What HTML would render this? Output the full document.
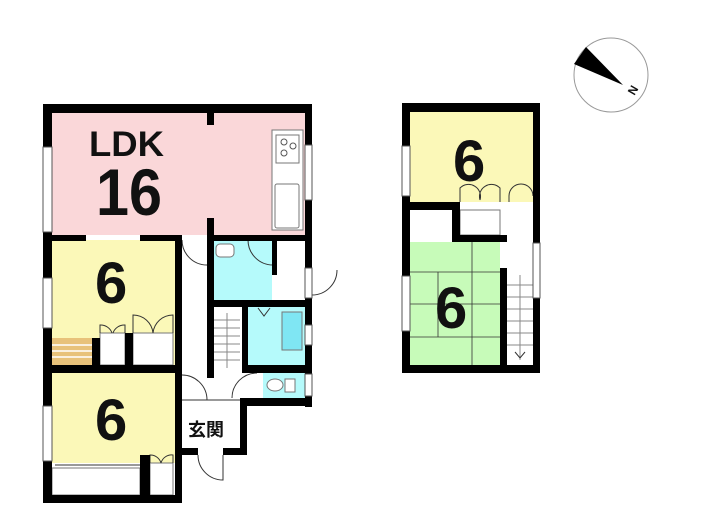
<!DOCTYPE html>
<html><head><meta charset="utf-8"><style>
html,body{margin:0;padding:0;background:#fff;}
svg{display:block}
text{font-family:"Liberation Sans","Noto Sans CJK JP",sans-serif;font-weight:bold;fill:#111}
</style></head><body>
<svg width="705" height="525" viewBox="0 0 705 525" xmlns="http://www.w3.org/2000/svg">
<!-- compass -->
<circle cx="611" cy="75" r="37" fill="#fff" stroke="#999" stroke-width="1"/>
<polygon points="586,47 574,64 623,85" fill="#000"/>
<text x="628" y="95" font-size="12" font-weight="normal" transform="rotate(-60 632 90)">N</text>

<!-- ===== FIRST FLOOR ===== -->
<rect x="52" y="113" width="253" height="122" fill="#fad7d9"/>
<rect x="52" y="240" width="123" height="125" fill="#fbf8b8"/>
<rect x="52" y="373" width="123" height="90" fill="#fbf8b8"/>
<rect x="214" y="240" width="58" height="60" fill="#b5fafb"/>
<rect x="248" y="307" width="57" height="58" fill="#b5fafb"/>
<rect x="263" y="373" width="42" height="25" fill="#b5fafb"/>
<rect x="52" y="338" width="40" height="27" fill="#e8c27a"/>
<g stroke="#fff" stroke-width="1.5"><line x1="52" y1="345" x2="92" y2="345"/><line x1="52" y1="351" x2="92" y2="351"/><line x1="52" y1="357" x2="92" y2="357"/></g>
<rect x="272" y="130" width="31" height="100" fill="#fff" stroke="#777"/>
<rect x="276" y="135" width="23" height="28" fill="#fff" stroke="#777"/>
<circle cx="284" cy="142" r="3" fill="none" stroke="#555"/><circle cx="293" cy="146" r="3" fill="none" stroke="#555"/><circle cx="284" cy="153" r="3" fill="none" stroke="#555"/>
<rect x="275" y="184" width="24" height="44" rx="2" fill="#fff" stroke="#777"/>
<rect x="282" y="312" width="20" height="38" fill="#7fe6f3" stroke="#777"/>
<rect x="216" y="244" width="18" height="13" rx="4" fill="#fff" stroke="#777"/>
<ellipse cx="275" cy="385" rx="8" ry="6" fill="#fff" stroke="#777"/>
<rect x="285" y="379" width="10" height="13" fill="#fff" stroke="#777"/>
<rect x="214" y="307" width="28" height="63" fill="#fff"/>
<g stroke="#888" stroke-width="1"><line x1="214" y1="320" x2="240" y2="320"/><line x1="214" y1="328" x2="240" y2="328"/><line x1="214" y1="336" x2="240" y2="336"/><line x1="214" y1="344" x2="240" y2="344"/><line x1="214" y1="352" x2="240" y2="352"/><line x1="214" y1="360" x2="240" y2="360"/><line x1="227" y1="313" x2="227" y2="368"/></g>
<rect x="100" y="333" width="25" height="32" fill="#fff" stroke="#777"/>
<rect x="133" y="333" width="40" height="32" fill="#fff" stroke="#777"/>
<rect x="52" y="468" width="88" height="27" fill="#fff" stroke="#777"/>
<rect x="150" y="463" width="23" height="32" fill="#fff" stroke="#777"/>
<g fill="none" stroke="#333" stroke-width="1">
<path d="M100 333 v-8 a12 12 0 0 1 12 8 M125 333 v-8 a12 12 0 0 0 -12 8"/>
<path d="M133 333 v-18 a20 20 0 0 1 20 18 M173 333 v-18 a20 20 0 0 0 -20 18"/>
<path d="M150 463 v-8 a11 11 0 0 1 11 8 M173 463 v-8 a11 11 0 0 0 -12 8"/>
<path d="M182 240 a25 25 0 0 0 25 25"/>
<path d="M248 240 a25 25 0 0 0 25 25"/>
<path d="M312 295 a25 25 0 0 0 25 -25"/>
<path d="M182 375 a25 25 0 0 1 25 25"/>
<path d="M232 398 a25 25 0 0 1 25 -25"/>
<path d="M198 455 a25 25 0 0 0 25 25 v-25"/>
<path d="M258 308 l6 8 l6 -8"/>
<line x1="182" y1="400" x2="240" y2="400"/>
<line x1="55" y1="465" x2="140" y2="465"/>
</g>
<g fill="#000">
<rect x="43" y="104" width="269" height="9"/>
<rect x="43" y="104" width="9" height="399"/>
<rect x="305" y="104" width="7" height="303"/>
<rect x="207" y="108" width="7" height="17"/>
<rect x="207" y="218" width="7" height="160"/>
<rect x="43" y="235" width="43" height="6"/>
<rect x="140" y="235" width="42" height="6"/>
<rect x="214" y="235" width="98" height="6"/>
<rect x="175" y="235" width="7" height="268"/>
<rect x="272" y="240" width="5" height="35"/>
<rect x="214" y="300" width="98" height="7"/>
<rect x="242" y="300" width="6" height="73"/>
<rect x="43" y="365" width="139" height="8"/>
<rect x="92" y="338" width="8" height="27"/>
<rect x="125" y="333" width="8" height="32"/>
<rect x="242" y="365" width="70" height="8"/>
<rect x="240" y="398" width="72" height="8"/>
<rect x="240" y="398" width="7" height="57"/>
<rect x="182" y="448" width="16" height="7"/>
<rect x="223" y="448" width="24" height="7"/>
<rect x="140" y="455" width="10" height="48"/>
<rect x="43" y="495" width="139" height="8"/>
</g>
<g fill="#fff" stroke="#555" stroke-width="1">
<rect x="43" y="147" width="9" height="85"/>
<rect x="43" y="278" width="9" height="50"/>
<rect x="43" y="406" width="9" height="55"/>
<rect x="305" y="145" width="7" height="55"/>
<rect x="305" y="325" width="7" height="20"/>
<rect x="305" y="374" width="7" height="22"/>
<rect x="305" y="268" width="7" height="30"/>
</g>
<text x="89" y="156" font-size="35" textLength="75" lengthAdjust="spacingAndGlyphs">LDK</text>
<text x="96" y="215" font-size="66" textLength="66" lengthAdjust="spacingAndGlyphs">16</text>
<text x="95" y="303" font-size="58">6</text>
<text x="95" y="440" font-size="58">6</text>
<text x="188" y="436" font-size="18">玄関</text>

<!-- ===== SECOND FLOOR ===== -->
<rect x="410" y="112" width="123" height="90" fill="#fbf8b8"/>
<rect x="410" y="242" width="90" height="123" fill="#c7fbb9"/>
<g stroke="#333" stroke-width="0.8">
<line x1="410" y1="272" x2="500" y2="272"/><line x1="410" y1="304" x2="500" y2="304"/><line x1="410" y1="337" x2="500" y2="337"/>
<line x1="472" y1="242" x2="472" y2="365"/><line x1="438" y1="272" x2="438" y2="337"/>
</g>
<rect x="460" y="210" width="40" height="25" fill="#fff" stroke="#777"/>
<rect x="507" y="272" width="26" height="93" fill="#fff"/>
<g stroke="#888" stroke-width="1"><line x1="507" y1="285" x2="533" y2="285"/><line x1="507" y1="297" x2="533" y2="297"/><line x1="507" y1="309" x2="533" y2="309"/><line x1="507" y1="321" x2="533" y2="321"/><line x1="507" y1="333" x2="533" y2="333"/><line x1="507" y1="345" x2="533" y2="345"/><line x1="520" y1="275" x2="520" y2="360"/></g>
<g fill="none" stroke="#333" stroke-width="1">
<path d="M460 202 v-14 a12 12 0 0 1 20 12 M500 202 v-14 a12 12 0 0 0 -20 12"/>
<path d="M509 202 v-6 a12 12 0 0 1 24 0"/>
<path d="M515 352 l5 6 l5 -6"/>
</g>
<g fill="#000">
<rect x="402" y="103" width="138" height="9"/>
<rect x="402" y="103" width="8" height="270"/>
<rect x="533" y="103" width="7" height="270"/>
<rect x="402" y="202" width="58" height="8"/>
<rect x="452" y="202" width="8" height="40"/>
<rect x="452" y="235" width="55" height="7"/>
<rect x="500" y="268" width="7" height="105"/>
<rect x="402" y="365" width="138" height="8"/>
</g>
<g fill="#fff" stroke="#555" stroke-width="1">
<rect x="402" y="146" width="8" height="50"/>
<rect x="402" y="276" width="8" height="55"/>
<rect x="533" y="243" width="7" height="55"/>
</g>
<text x="453" y="181" font-size="58">6</text>
<text x="435" y="328" font-size="58">6</text>
</svg>
</body></html>
